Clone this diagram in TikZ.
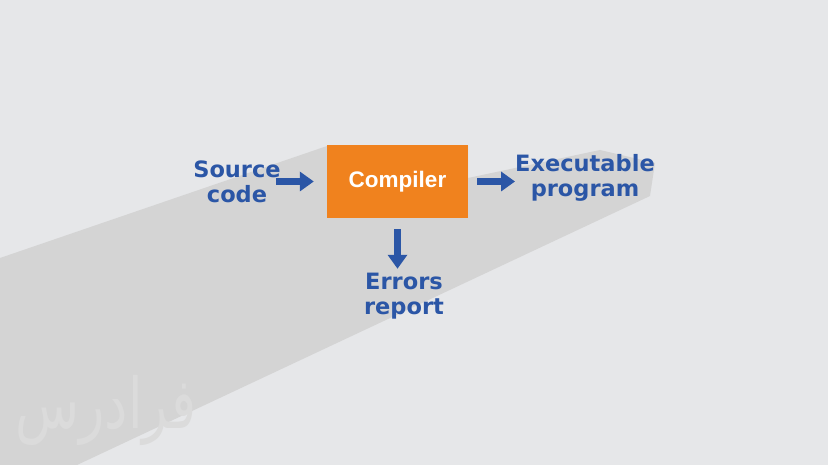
\documentclass[tikz,border=0pt]{standalone}
\usepackage{fontspec}
\usepackage{graphicx}
\usetikzlibrary{arrows.meta,calc}
\TeXXeTstate=1
\newfontfamily\labfont{DejaVu Sans}
\newfontfamily\compfont{Liberation Sans}
\newfontfamily\arabicfont[Script=Arabic]{DejaVu Sans}
\definecolor{bgc}{HTML}{E6E7E9}
\definecolor{shadowc}{HTML}{D4D4D4}
\definecolor{orangec}{HTML}{F0821E}
\definecolor{bluec}{HTML}{2B56A6}
\definecolor{wmc}{HTML}{DBDBDB}
\tikzset{
  lab/.style={text=bluec, font=\labfont\bfseries\fontsize{22.5}{25}\selectfont, align=center, inner sep=0pt},
  compbox/.style={fill=orangec, text=white, font=\compfont\bfseries\fontsize{22.5}{25}\selectfont, minimum width=141pt, minimum height=73pt, inner sep=0pt},
  blockarrow/.style={draw=bluec, line width=7pt, -{Triangle[length=14pt,width=19pt]}},
}
\begin{document}
\begin{tikzpicture}[x=1pt,y=-1pt]
\useasboundingbox (0,0) rectangle (828,465);
\fill[bgc] (0,0) rectangle (828,465);
% long shadow
\fill[shadowc] (0,258) -- (327,146) -- (468,146) -- (468,178) -- (600,150) -- (655,163) -- (650,196) -- (77,465) -- (0,465) -- cycle;
% watermark
\node[text=wmc, font=\arabicfont\fontsize{50}{52}\selectfont, inner sep=0pt] (wm) at (106,410) {\scalebox{1.05}[1.4]{\beginR فرادرس\endR}};
% nodes
\node[compbox] (comp) at (397.5,181.5) {Compiler};
\node[lab] (src) at (237,181.5) {Source\\code};
\node[lab] (exe) at (585,178) {Executable\\program};
\node[lab] (err) at (404,296) {Errors\\report};
% arrows
\draw[blockarrow, shorten <=-5pt, shorten >=13pt] (src.east |- comp.west) -- (comp.west);
\draw[blockarrow, shorten <=9pt] (comp.east) -- (comp.east -| exe.west);
\draw[blockarrow, shorten <=11pt, shorten >=4pt] (comp.south) -- (comp.south |- err.north);
\end{tikzpicture}
\end{document}
